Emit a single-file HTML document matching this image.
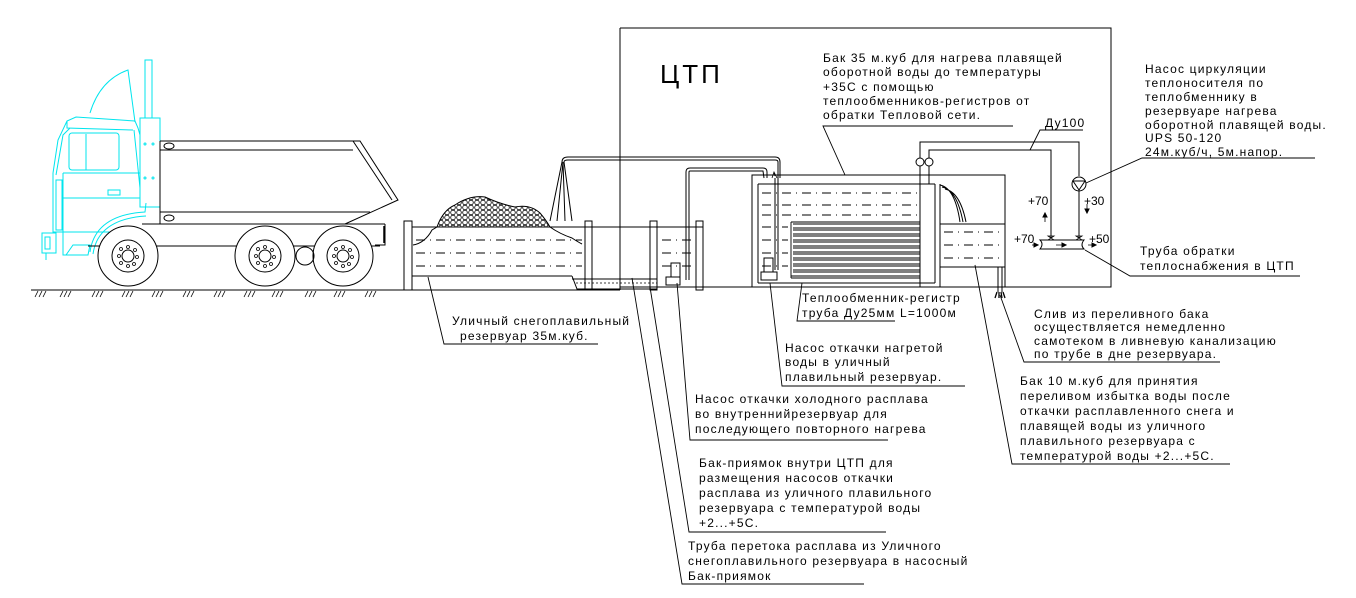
<!DOCTYPE html>
<html><head><meta charset="utf-8"><style>
html,body{margin:0;padding:0;background:#fff;}
svg{display:block}
text{font-family:"Liberation Sans","DejaVu Sans",sans-serif;font-size:12px;fill:#000;letter-spacing:1.2px}
</style></head><body>
<svg width="1356" height="598" viewBox="0 0 1356 598" xmlns="http://www.w3.org/2000/svg">
<defs>
<pattern id="sn" width="6" height="5" patternUnits="userSpaceOnUse">
<circle cx="3" cy="2.5" r="2.3" fill="none" stroke="#000" stroke-width="0.8"/>
</pattern>
</defs>
<g fill="none" stroke="#000" stroke-width="1">
<line x1="31" y1="290" x2="620" y2="290"/>
<g stroke-width="0.8">
<path d="M35 297l3-6M39 297l3-6M43 297l3-6M60 297l3-6M64 297l3-6M68 297l3-6M92 297l3-6M96 297l3-6M100 297l3-6M122 297l3-6M126 297l3-6M130 297l3-6M152 297l3-6M156 297l3-6M160 297l3-6M183 297l3-6M187 297l3-6M191 297l3-6M214 297l3-6M218 297l3-6M222 297l3-6M244 297l3-6M248 297l3-6M252 297l3-6M272 297l3-6M276 297l3-6M280 297l3-6M305 297l3-6M309 297l3-6M313 297l3-6M334 297l3-6M338 297l3-6M342 297l3-6M365 297l3-6M369 297l3-6M373 297l3-6"/>
</g>
<g stroke="#00e5ee">
<path d="M53 173 L58 140 L67 121 L76 117 L135 121 L138 128 L140 135"/>
<path d="M67 121 L67 128 L133 130"/>
<path d="M56 175 L63 135 L70 128"/>
<rect x="69" y="133" width="50" height="37" rx="3"/>
<line x1="86" y1="134" x2="86" y2="170"/>
<line x1="63" y1="173" x2="140" y2="173"/>
<line x1="63" y1="198" x2="140" y2="198"/>
<path d="M53 173 L53 232 L63 232 L63 173"/>
<rect x="108" y="190" width="12" height="5"/>
<path d="M56 180 L56 230 L62 230 L62 180Z"/>
<path d="M63 232 L140 232"/>
<path d="M90 252 Q95 215 145 212 L146 203"/>
<path d="M93 254 Q98 219 146 216"/>
<path d="M63 232 L63 255 L88 255 L90 245 L73 245 L66 255"/>
<rect x="42" y="233" width="14" height="20"/>
<rect x="45" y="237" width="5" height="12"/>
<line x1="46" y1="253" x2="46" y2="260"/>
<rect x="140" y="118" width="20" height="89"/>
<rect x="145" y="60" width="7" height="58"/>
<path d="M90 113 Q100 80 128 70 L135 122"/>
<path d="M134 130 L140 188"/>
<circle cx="145" cy="144" r="1"/><circle cx="153" cy="144" r="1"/>
<circle cx="145" cy="178" r="1"/><circle cx="153" cy="178" r="1"/>
</g>
<path d="M160 141 L360 141 L398 200 L345 224"/>
<line x1="160" y1="150" x2="353" y2="150"/>
<line x1="353" y1="141" x2="392" y2="200"/>
<line x1="160" y1="212" x2="370" y2="212"/>
<line x1="160" y1="141" x2="160" y2="224"/>
<ellipse cx="169" cy="146" rx="5" ry="3"/>
<ellipse cx="169" cy="218" rx="5" ry="3"/>
<line x1="142" y1="224" x2="385" y2="224"/>
<path d="M385 224 L385 245 L375 245"/>
<line x1="88" y1="246" x2="380" y2="246"/>
<g stroke-width="1.5"><line x1="384" y1="226" x2="384" y2="243"/></g>
<circle cx="128" cy="256" r="30" fill="#fff"/><circle cx="128" cy="256" r="16"/><circle cx="128" cy="256" r="6"/>
<circle cx="265" cy="256" r="30" fill="#fff"/><circle cx="265" cy="256" r="16"/><circle cx="265" cy="256" r="6"/>
<circle cx="343" cy="256" r="30" fill="#fff"/><circle cx="343" cy="256" r="16"/><circle cx="343" cy="256" r="6"/>
<circle cx="305" cy="256" r="9"/>
<g stroke-width="0.8">
<circle cx="128" cy="247" r="1.5"/><circle cx="135" cy="250" r="1.5"/><circle cx="137" cy="257" r="1.5"/><circle cx="134" cy="264" r="1.5"/><circle cx="128" cy="266" r="1.5"/><circle cx="121" cy="263" r="1.5"/><circle cx="119" cy="256" r="1.5"/><circle cx="121" cy="249" r="1.5"/>
<circle cx="265" cy="247" r="1.5"/><circle cx="272" cy="250" r="1.5"/><circle cx="274" cy="257" r="1.5"/><circle cx="271" cy="264" r="1.5"/><circle cx="265" cy="266" r="1.5"/><circle cx="258" cy="263" r="1.5"/><circle cx="256" cy="256" r="1.5"/><circle cx="258" cy="249" r="1.5"/>
<circle cx="343" cy="247" r="1.5"/><circle cx="350" cy="250" r="1.5"/><circle cx="352" cy="257" r="1.5"/><circle cx="349" cy="264" r="1.5"/><circle cx="343" cy="266" r="1.5"/><circle cx="336" cy="263" r="1.5"/><circle cx="334" cy="256" r="1.5"/><circle cx="336" cy="249" r="1.5"/>
</g>
<rect x="404" y="221" width="8" height="69"/>
<rect x="585" y="221" width="7" height="69"/>
<line x1="412" y1="227" x2="703" y2="227"/>
<line x1="412" y1="276" x2="572" y2="276"/>
<path d="M572 276 L577 289 L657 289 M572 279 L657 279"/>
<g stroke-dasharray="9 5 1 5" stroke-width="0.9">
<line x1="416" y1="240" x2="582" y2="240"/>
<line x1="416" y1="253" x2="582" y2="253"/>
<line x1="416" y1="266" x2="582" y2="266"/>
<line x1="662" y1="240" x2="694" y2="240"/>
<line x1="662" y1="253" x2="694" y2="253"/>
<line x1="662" y1="266" x2="694" y2="266"/>
</g>
<g stroke-dasharray="2 2" stroke-width="0.8"><line x1="576" y1="283" x2="657" y2="283"/></g>
<path d="M437 227 Q443 210 455 205 Q470 195 485 197 Q500 204 515 207 Q530 204 540 213 Q546 220 550 227 Z" fill="url(#sn)" stroke="#000"/>
<path d="M413 245 Q425 243 432 230 L437 227 M550 227 Q560 234 572 238 Q578 242 582 244"/>
<rect x="650" y="221" width="7" height="69"/>
<rect x="696" y="221" width="7" height="69"/>
<rect x="671" y="263" width="9" height="14"/>
<rect x="666" y="277" width="14" height="8"/>
<path d="M562 162 Q562 157 568 157 L775 157 Q780 157 780 162 L780 178"/>
<path d="M564 162 Q564 160 568 160 L775 160 Q778 160 778 162 L778 178"/>
<path d="M686 280 L686 172 Q686 168 690 168 L763 168 Q767 168 767 172 L767 178"/>
<path d="M689 280 L689 172 Q689 171 690 171 L763 171 L764 178"/>
<path d="M562 162 L550 221 M563 162 L557 221 M563 162 L565 221 M564 162 L572 221"/>
<line x1="620" y1="28" x2="620" y2="290"/>
<path d="M620 28 L1111 28 L1111 287 L620 287"/>
<rect x="752" y="175" width="253" height="112"/>
<line x1="758" y1="184" x2="758" y2="283"/>
<line x1="758" y1="184" x2="935" y2="184"/>
<line x1="758" y1="283" x2="935" y2="283"/>
<line x1="935" y1="184" x2="935" y2="283"/>
<line x1="940" y1="184" x2="940" y2="287"/>
<line x1="940" y1="224" x2="1005" y2="224"/>
<line x1="940" y1="267" x2="1005" y2="267"/>
<g stroke-dasharray="9 5 1 5" stroke-width="0.9">
<line x1="762" y1="193" x2="920" y2="193"/>
<line x1="762" y1="205" x2="920" y2="205"/>
<line x1="762" y1="215" x2="920" y2="215"/>
<line x1="762" y1="227" x2="788" y2="227"/><line x1="762" y1="240" x2="788" y2="240"/><line x1="762" y1="253" x2="788" y2="253"/><line x1="762" y1="266" x2="788" y2="266"/>
<line x1="944" y1="232" x2="1002" y2="232"/><line x1="944" y1="245" x2="1002" y2="245"/><line x1="944" y1="258" x2="1002" y2="258"/>
</g>
<g stroke-width="0.9">
<path d="M791 222h129v2h-127 M793 228h127v2h-127 M793 234h127v2h-127 M793 240h127v2h-127 M793 246h127v2h-127 M793 252h127v2h-127 M793 258h127v2h-127 M793 264h127v2h-127 M793 270h127v2h-127 M791 276h129v2h-129 M791 222v56"/>
</g>
<path d="M778 178 L778 270 M775 178 L775 270"/>
<rect x="764" y="258" width="9" height="14"/>
<rect x="761" y="272" width="16" height="8"/>
<path d="M772 178 l2 -6 l3 6 M775 176 l-1 -4" stroke-width="0.8"/>
<path d="M940 185 Q955 188 960 222 M942 187 Q957 190 963 222 M945 189 Q960 192 966 222"/>
<path d="M998 267 L998 292 M1002 267 L1002 292"/>
<path d="M997 292 l-2 6 M999 292 l0 6 M1001 292 l1 6 M1003 292 l2 6" stroke-width="1.3"/>
<path d="M920 158 L920 142 L1079 142 L1079 176"/>
<path d="M929 158 L929 150 L1051 150 L1051 238"/>
<circle cx="920" cy="162" r="4"/><circle cx="929" cy="162" r="4"/>
<path d="M920 166 L920 287 M929 166 L929 184"/>
<circle cx="1079" cy="184" r="7"/>
<path d="M1073 181 L1085 181 L1079 190 Z"/>
<path d="M1079 191 L1079 238"/>
<path d="M1048 236 l6 0 l-6 4 l6 0z M1076 236 l6 0 l-6 4 l6 0z" stroke-width="0.8"/>
<path d="M1040 240 L1084 240 Q1080 245 1084 249 L1040 249 Q1044 244 1040 240Z"/>
<path d="M1056 245 h10 M1032 245 h6 M1088 245 h8" stroke-width="0.8"/>
<path d="M1066 245 l-4 -2 v4z M1038 245 l-4 -2 v4z M1096 245 l-4 -2 v4z M1045 213 l-2 4 h4z M1087 213 l-2 -4 h4z" fill="#000"/>
<path d="M1045 213 v9 M1087 204 v9" stroke-width="0.8"/>
<g stroke-width="0.9">
<path d="M845 175 L823 126 L1013 126"/>
<path d="M1030 150 L1040 130 L1083 130"/>
<path d="M1086 183 L1142 158 L1315 158"/>
<path d="M1085 250 L1130 276 L1300 276"/>
<path d="M802 283 L797 321 L895 321"/>
<path d="M428 277 L444 344 L598 344"/>
<path d="M1000 295 L1024 362 L1220 362"/>
<path d="M770 283 L782 386 L965 386"/>
<path d="M677 283 L690 440 L888 440"/>
<path d="M650 287 L689 532 L886 532"/>
<path d="M632 278 L682 584 L864 584"/>
<path d="M975 265 L1012 464 L1230 464"/>
</g>
</g>
<text x="660" y="83" style="font-size:26px;letter-spacing:3px">ЦТП</text>
<g>
<text x="823" y="62">Бак 35 м.куб для нагрева плавящей</text>
<text x="823" y="76">оборотной воды до температуры</text>
<text x="823" y="91">+35С с помощью</text>
<text x="823" y="105">теплообменников-регистров от</text>
<text x="823" y="119">обратки Тепловой сети.</text>
<text x="1045" y="127">Ду100</text>
<text x="1145" y="73">Насос циркуляции</text>
<text x="1145" y="87">теплоносителя по</text>
<text x="1145" y="101">теплобменнику в</text>
<text x="1145" y="115">резервуаре нагрева</text>
<text x="1145" y="129">оборотной плавящей воды.</text>
<text x="1145" y="142">UPS 50-120</text>
<text x="1145" y="156">24м.куб/ч, 5м.напор.</text>
<text x="1028" y="205" style="letter-spacing:0">+70</text>
<text x="1084" y="205" style="letter-spacing:0">+30</text>
<text x="1014" y="243" style="letter-spacing:0">+70</text>
<text x="1089" y="243" style="letter-spacing:0">+50</text>
<text x="1140" y="255">Труба обратки</text>
<text x="1140" y="270">теплоснабжения в ЦТП</text>
<text x="802" y="302">Теплообменник-регистр</text>
<text x="802" y="317">труба Ду25мм L=1000м</text>
<text x="452" y="325">Уличный снегоплавильный</text>
<text x="460" y="340">резервуар 35м.куб.</text>
<text x="1034" y="318">Слив из переливного бака</text>
<text x="1034" y="331">осуществляется немедленно</text>
<text x="1034" y="345">самотеком в ливневую канализацию</text>
<text x="1034" y="358">по трубе в дне резервуара.</text>
<text x="785" y="352">Насос откачки нагретой</text>
<text x="785" y="366">воды в уличный</text>
<text x="785" y="381">плавильный резервуар.</text>
<text x="695" y="403">Насос откачки холодного расплава</text>
<text x="695" y="418">во внутреннийрезервуар для</text>
<text x="695" y="433">последующего повторного нагрева</text>
<text x="699" y="467">Бак-приямок внутри ЦТП для</text>
<text x="699" y="482">размещения насосов откачки</text>
<text x="699" y="497">расплава из уличного плавильного</text>
<text x="699" y="512">резервуара с температурой воды</text>
<text x="699" y="527">+2...+5С.</text>
<text x="688" y="550">Труба перетока расплава из Уличного</text>
<text x="688" y="565">снегоплавильного резервуара в насосный</text>
<text x="688" y="580">Бак-приямок</text>
<text x="1020" y="385">Бак 10 м.куб для принятия</text>
<text x="1020" y="400">переливом избытка воды после</text>
<text x="1020" y="415">откачки расплавленного снега и</text>
<text x="1020" y="430">плавящей воды из уличного</text>
<text x="1020" y="445">плавильного резервуара с</text>
<text x="1020" y="460">температурой воды +2...+5С.</text>
</g>
</svg>
</body></html>
